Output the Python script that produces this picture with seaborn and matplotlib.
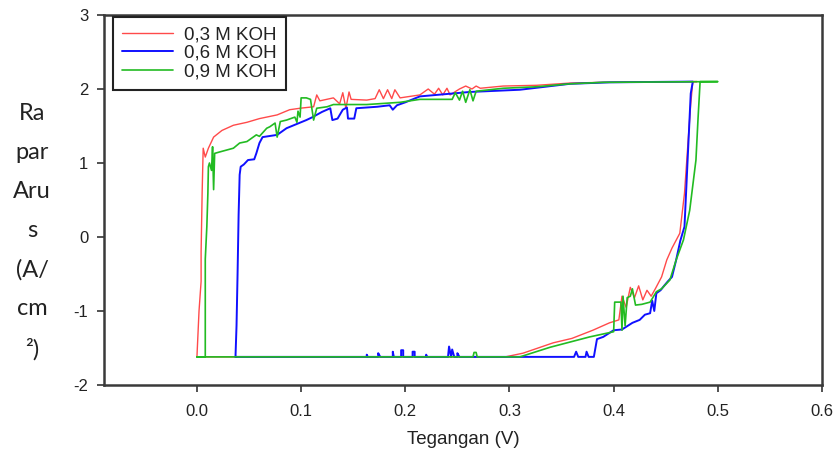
import numpy as np
import pandas as pd
import matplotlib
matplotlib.use("Agg")
import matplotlib.pyplot as plt
import seaborn as sns

# ---------------- data ----------------
series_labels = ["0,3 M KOH", "0,6 M KOH", "0,9 M KOH"]
series_colors = ["#ff4a4a", "#1010ff", "#22bb22"]

red_x = [0.000, 0.296, 0.313, 0.342, 0.360, 0.380, 0.396, 0.405, 0.408, 0.412, 0.416, 0.420,
         0.424, 0.428, 0.432, 0.436, 0.440, 0.446, 0.451, 0.456, 0.4635, 0.468, 0.471, 0.474,
         0.476, 0.480, 0.390, 0.358, 0.326, 0.294, 0.272, 0.268, 0.264, 0.258, 0.252, 0.243,
         0.240, 0.236, 0.232, 0.228, 0.222, 0.214, 0.195, 0.190, 0.187, 0.183, 0.179, 0.175,
         0.171, 0.163, 0.148, 0.146, 0.143, 0.140, 0.137, 0.131, 0.118, 0.115, 0.112, 0.099,
         0.089, 0.077, 0.060, 0.048, 0.035, 0.024, 0.016, 0.011, 0.008, 0.006, 0.005, 0.004,
         0.004, 0.002, 0.000]
red_y = [-1.62, -1.62, -1.57, -1.43, -1.37, -1.26, -1.16, -1.12, -0.80, -0.95, -0.68, -0.82,
         -0.66, -0.85, -0.72, -0.80, -0.70, -0.54, -0.31, -0.15, 0.05, 0.59, 1.20, 1.80,
         2.10, 2.10, 2.09, 2.08, 2.05, 2.04, 2.01, 2.04, 2.00, 2.04, 2.00, 1.92,
         2.01, 1.92, 2.01, 1.93, 2.00, 1.92, 1.88, 1.99, 1.87, 1.99, 1.87, 1.99,
         1.87, 1.85, 1.86, 1.96, 1.74, 1.95, 1.80, 1.88, 1.84, 1.92, 1.76, 1.74,
         1.72, 1.65, 1.60, 1.55, 1.51, 1.44, 1.35, 1.20, 1.08, 1.20, 0.60, -0.20,
         -0.60, -1.00, -1.62]

blue_x = [0.037, 0.163, 0.163, 0.164, 0.174, 0.174, 0.176, 0.188, 0.188, 0.189, 0.196, 0.196,
          0.198, 0.198, 0.207, 0.207, 0.209, 0.209, 0.220, 0.220, 0.221, 0.241, 0.242, 0.244,
          0.245, 0.247, 0.250, 0.250, 0.252, 0.362, 0.364, 0.366, 0.373, 0.374, 0.376, 0.381,
          0.384, 0.390, 0.400, 0.408, 0.418, 0.425, 0.430, 0.435, 0.437, 0.439, 0.441, 0.445,
          0.449, 0.452, 0.456, 0.460, 0.464, 0.468, 0.471, 0.474, 0.476, 0.396, 0.358, 0.310,
          0.262, 0.214, 0.200, 0.192, 0.188, 0.185, 0.173, 0.153, 0.151, 0.145, 0.144, 0.140,
          0.135, 0.130, 0.128, 0.120, 0.111, 0.105, 0.086, 0.077, 0.063, 0.060, 0.057, 0.055,
          0.049, 0.045, 0.042, 0.041, 0.040, 0.039, 0.038, 0.037]
blue_y = [-1.62, -1.62, -1.59, -1.62, -1.62, -1.57, -1.62, -1.62, -1.55, -1.62, -1.62, -1.53,
          -1.53, -1.62, -1.62, -1.55, -1.55, -1.62, -1.62, -1.59, -1.62, -1.62, -1.48, -1.62,
          -1.52, -1.62, -1.62, -1.57, -1.62, -1.62, -1.55, -1.62, -1.62, -1.55, -1.62, -1.62,
          -1.38, -1.35, -1.26, -1.25, -1.16, -1.12, -1.05, -1.03, -0.86, -1.00, -0.76, -0.72,
          -0.65, -0.60, -0.54, -0.31, -0.05, 0.14, 1.04, 1.94, 2.10, 2.09, 2.07, 1.99,
          1.96, 1.90, 1.82, 1.78, 1.72, 1.78, 1.76, 1.74, 1.60, 1.60, 1.75, 1.72,
          1.60, 1.58, 1.74, 1.69, 1.62, 1.58, 1.47, 1.38, 1.35, 1.27, 1.13, 1.05,
          1.04, 0.98, 0.95, 0.84, 0.30, -0.50, -1.20, -1.62]

green_x = [0.000, 0.265, 0.266, 0.268, 0.269, 0.310, 0.339, 0.377, 0.400, 0.401, 0.407, 0.408,
           0.409, 0.411, 0.413, 0.416, 0.418, 0.421, 0.427, 0.435, 0.441, 0.446, 0.454, 0.460,
           0.467, 0.473, 0.479, 0.481, 0.483, 0.500, 0.390, 0.358, 0.326, 0.294, 0.268, 0.265,
           0.262, 0.258, 0.255, 0.252, 0.248, 0.245, 0.214, 0.195, 0.163, 0.131, 0.125, 0.115,
           0.112, 0.109, 0.105, 0.100, 0.099, 0.097, 0.096, 0.094, 0.086, 0.080, 0.077, 0.075,
           0.070, 0.067, 0.060, 0.057, 0.048, 0.041, 0.035, 0.022, 0.017, 0.016, 0.015, 0.014,
           0.012, 0.011, 0.0105, 0.0095, 0.008, 0.008, 0.000]
green_y = [-1.62, -1.62, -1.56, -1.56, -1.62, -1.62, -1.49, -1.35, -1.28, -0.88, -0.88, -1.26,
           -0.80, -1.20, -0.82, -0.80, -0.70, -0.92, -0.91, -0.88, -0.74, -0.70, -0.58, -0.31,
           -0.04, 0.36, 1.04, 1.60, 2.10, 2.10, 2.09, 2.07, 2.03, 2.01, 1.97, 1.84,
           1.99, 1.82, 1.97, 1.85, 1.95, 1.86, 1.86, 1.82, 1.79, 1.79, 1.76, 1.74,
           1.58, 1.86, 1.88, 1.88, 1.62, 1.70, 1.55, 1.62, 1.58, 1.56, 1.35, 1.54,
           1.49, 1.47, 1.36, 1.38, 1.29, 1.27, 1.20, 1.15, 1.13, 0.64, 1.22, 0.90,
           1.00, 0.95, 0.59, 0.14, -0.30, -1.62, -1.62]

x_ticks = [0.0, 0.1, 0.2, 0.3, 0.4, 0.5, 0.6]
x_tick_labels = ["0.0", "0.1", "0.2", "0.3", "0.4", "0.5", "0.6"]
y_ticks = [-2, -1, 0, 1, 2, 3]
y_tick_labels = ["-2", "-1", "0", "1", "2", "3"]

x_label = "Tegangan (V)"
y_label_lines = ["Ra", "par", "Aru", "s", "(A/", "cm", "²)"]

# ---------------- figure ----------------
sns.set_theme(style="white")
plt.rcParams["font.family"] = ["Liberation Sans", "DejaVu Sans"]

W, H = 837, 450
fig = plt.figure(figsize=(W / 100, H / 100), dpi=100)
ax = fig.add_axes([103.7 / W, 1 - 385 / H, (822 - 103.7) / W, (385 - 15) / H])

frames = []
for lab, xs, ys in zip(series_labels,
                       [red_x, blue_x, green_x],
                       [red_y, blue_y, green_y]):
    frames.append(pd.DataFrame({"V": xs, "J": ys, "series": lab,
                                "order": np.arange(len(xs))}))
df = pd.concat(frames, ignore_index=True)

widths = [1.0, 1.4, 1.2]
for lab, col, lw in zip(series_labels, series_colors, widths):
    sub = df[df["series"] == lab]
    sns.lineplot(data=sub, x="V", y="J", sort=False, estimator=None,
                 color=col, linewidth=lw, label=lab, ax=ax)

ax.set_xlim(-0.0895, 0.6)
ax.set_ylim(-2, 3)
ax.set_xticks(x_ticks)
ax.set_xticklabels(x_tick_labels)
ax.set_yticks(y_ticks)
ax.set_yticklabels(y_tick_labels)
ax.tick_params(axis="both", direction="out", length=5, width=1.2,
               color="#333333", labelsize=12, labelcolor="#222222")
ax.tick_params(axis="x", pad=9)
ax.tick_params(axis="y", pad=6)
ax.tick_params(bottom=True, left=True)
for sp in ax.spines.values():
    sp.set_color("#3a3a3a")
    sp.set_linewidth(1.8)
    sp.set_visible(True)

ax.set_xlabel(x_label, fontsize=13.5, color="#222222", labelpad=8)
ax.set_ylabel("")

fig.text(32 / W, 1 - 232 / H, "\n".join(y_label_lines), ha="center", va="center",
         fontsize=17, family=["Lato", "DejaVu Sans"], color="#222222", linespacing=2.05)

leg = ax.legend(loc="upper left", bbox_to_anchor=(0.013, 0.995), borderaxespad=0,
                fontsize=13.5, frameon=True, fancybox=False, framealpha=1,
                edgecolor="#222222", handlelength=2.7, handletextpad=0.6,
                labelspacing=0.08, borderpad=0.5)
leg.get_frame().set_linewidth(1.5)
for t in leg.get_texts():
    t.set_color("#222222")

fig.savefig("out.png", dpi=100)
